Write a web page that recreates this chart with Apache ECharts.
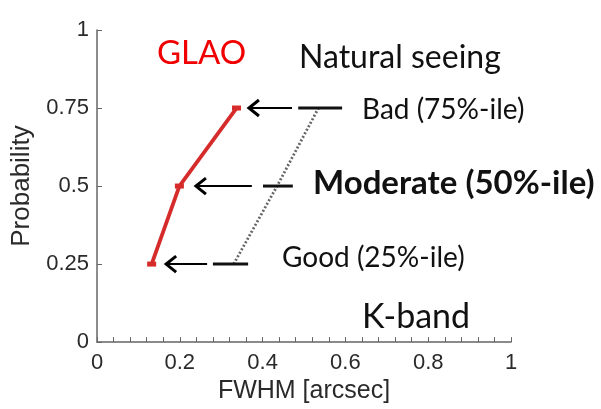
<!DOCTYPE html>
<html>
<head>
<meta charset="utf-8">
<script src="https://cdn.jsdelivr.net/npm/echarts@6/dist/echarts.min.js"></script>
<style>
html,body{margin:0;padding:0;background:#fff;}
#chart{width:601px;height:409px;}
</style>
</head>
<body>
<div id="chart"></div>
<script>
// ---- data ----
const probabilities = [0.25, 0.5, 0.75];
const glaoFwhm = [0.132, 0.199, 0.337];
const naturalFwhm = [0.33, 0.435, 0.535];
const seeingDashStart = [0.28, 0.401, 0.486];
const seeingDashEnd = [0.365, 0.473, 0.592];
const arrowTip = [0.167, 0.239, 0.367];
const arrowTail = [0.266, 0.374, 0.471];
const xTicks = [0, 0.2, 0.4, 0.6, 0.8, 1];
const yTicks = [0, 0.25, 0.5, 0.75, 1];

const chart = echarts.init(document.getElementById('chart'), null, {renderer: 'canvas'});

const axisFont = 'Liberation Sans, Arial, sans-serif';
const annFont = 'Lato, sans-serif';

const glaoData = glaoFwhm.map((x, i) => [x, probabilities[i]]);
const naturalData = naturalFwhm.map((x, i) => [x, probabilities[i]]);
const dashData = probabilities.map((p, i) => [seeingDashStart[i], seeingDashEnd[i], p]);
const arrowData = probabilities.map((p, i) => [arrowTip[i], arrowTail[i], p]);

const option = {
  backgroundColor: '#ffffff',
  animation: false,
  grid: {left: 97, right: 90, top: 30, bottom: 64, containLabel: false},
  xAxis: {
    type: 'value', min: 0, max: 1, interval: 0.2,
    name: 'FWHM [arcsec]', nameLocation: 'middle', nameGap: 35,
    nameTextStyle: {fontFamily: axisFont, fontSize: 25, color: '#2a2a2a'},
    axisLine: {show: true, lineStyle: {color: '#666', width: 1.5}},
    axisTick: {show: true, inside: true, length: 5, lineStyle: {color: '#666', width: 1}},
    minorTick: {show: true, splitNumber: 5, length: 5, lineStyle: {color: '#666', width: 1}},
    splitLine: {show: false},
    axisLabel: {
      fontFamily: axisFont, fontSize: 22, color: '#2a2a2a', margin: 10,
      formatter: v => {
        const t = xTicks.find(k => Math.abs(k - v) < 1e-6);
        return t === undefined ? '' : String(t);
      }
    }
  },
  yAxis: {
    type: 'value', min: 0, max: 1, interval: 0.25,
    name: 'Probability', nameLocation: 'middle', nameGap: 61, nameRotate: 90,
    nameTextStyle: {fontFamily: axisFont, fontSize: 26, color: '#2a2a2a'},
    axisLine: {show: true, lineStyle: {color: '#666', width: 1.5}},
    axisTick: {show: true, inside: true, length: 5, lineStyle: {color: '#666', width: 1}},
    splitLine: {show: false},
    axisLabel: {
      fontFamily: axisFont, fontSize: 22, color: '#2a2a2a', margin: 8,
      formatter: v => {
        const t = yTicks.find(k => Math.abs(k - v) < 1e-6);
        return t === undefined ? '' : String(t);
      }
    }
  },
  series: [
    {
      name: 'Natural seeing', type: 'line', data: naturalData,
      symbol: 'none', z: 2,
      lineStyle: {color: '#666', width: 2.8, type: [2, 2]}
    },
    {
      name: 'Seeing marks', type: 'custom', data: dashData, z: 3,
      renderItem: (params, api) => {
        const a = api.coord([api.value(0), api.value(2)]);
        const b = api.coord([api.value(1), api.value(2)]);
        return {type: 'line', shape: {x1: a[0], y1: a[1], x2: b[0], y2: b[1]},
          style: {stroke: '#111', lineWidth: 3}};
      }
    },
    {
      name: 'Arrows', type: 'custom', data: arrowData, z: 4,
      renderItem: (params, api) => {
        const tip = api.coord([api.value(0), api.value(2)]);
        const tail = api.coord([api.value(1), api.value(2)]);
        return {type: 'group', children: [
          {type: 'line', shape: {x1: tip[0] + 1, y1: tip[1], x2: tail[0], y2: tail[1]},
            style: {stroke: '#000', lineWidth: 2}},
          {type: 'polyline', shape: {points: [[tip[0] + 10, tip[1] - 8], [tip[0], tip[1]], [tip[0] + 10, tip[1] + 8]]},
            style: {stroke: '#000', lineWidth: 3, fill: null, lineJoin: 'miter'}}
        ]};
      }
    },
    {
      name: 'GLAO', type: 'line', data: glaoData, z: 5,
      symbol: 'rect', symbolSize: [9, 5],
      itemStyle: {color: '#d62b2b'},
      lineStyle: {color: '#d62b2b', width: 3.8}
    }
  ],
  graphic: [
    {type: 'text', left: 157, top: 37, style: {text: 'GLAO', fontFamily: annFont, fontSize: 33, fill: '#f00000'}},
    {type: 'text', left: 299, top: 42, style: {text: 'Natural seeing', fontFamily: annFont, fontSize: 32, fill: '#111'}},
    {type: 'text', left: 362, top: 96, style: {text: 'Bad (75%-ile)', fontFamily: annFont, fontSize: 28, fill: '#111'}},
    {type: 'text', left: 313, top: 167, style: {text: 'Moderate (50%-ile)', fontFamily: annFont, fontSize: 33, fontWeight: 'bold', fill: '#111'}},
    {type: 'text', left: 282, top: 244, style: {text: 'Good (25%-ile)', fontFamily: annFont, fontSize: 28, fill: '#111'}},
    {type: 'text', left: 362, top: 300, style: {text: 'K-band', fontFamily: annFont, fontSize: 34, fill: '#111'}}
  ]
};
chart.setOption(option);
</script>
</body>
</html>
